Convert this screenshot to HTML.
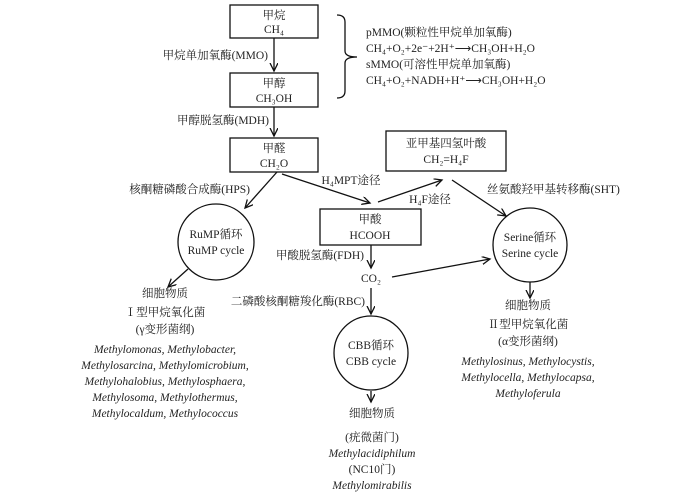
<!DOCTYPE html>
<html><head><meta charset="utf-8"><style>
html,body{margin:0;padding:0;background:#fff;}
svg{display:block;}
text{font-family:"Liberation Serif","Noto Serif CJK SC",serif;font-size:11.5px;fill:#222;}
.i{font-style:italic;}
</style></head><body>
<svg width="700" height="494" viewBox="0 0 700 494" xmlns="http://www.w3.org/2000/svg">
<defs><marker id="a" markerWidth="10" markerHeight="10" refX="8" refY="4" orient="auto" markerUnits="userSpaceOnUse"><path d="M0,0 L8,4 L0,8" fill="none" stroke="#111" stroke-width="1.3"/></marker></defs>
<g fill="none" stroke="#111" stroke-width="1.3">
<rect x="230" y="5" width="88" height="33"/>
<rect x="230" y="73" width="88" height="34"/>
<rect x="230" y="138" width="88" height="34"/>
<rect x="386" y="131" width="120" height="40"/>
<rect x="320" y="209" width="101" height="36"/>
<circle cx="216" cy="242" r="38"/>
<circle cx="530" cy="245" r="37"/>
<circle cx="371" cy="353" r="37"/>
<path d="M337,15 Q345,15 345,22 L345,51 Q345,57 357,57 Q345,57 345,63 L345,91 Q345,98 337,98"/>
<g marker-end="url(#a)">
<line x1="274" y1="38" x2="274" y2="71"/>
<line x1="274" y1="107" x2="274" y2="136"/>
<line x1="277" y1="172" x2="245" y2="208"/>
<line x1="282" y1="174" x2="370" y2="203"/>
<line x1="378" y1="202" x2="442" y2="180"/>
<line x1="452" y1="180" x2="506" y2="216"/>
<line x1="371" y1="245" x2="371" y2="268"/>
<line x1="371" y1="288" x2="371" y2="314"/>
<line x1="392" y1="277" x2="490" y2="259"/>
<line x1="188" y1="269" x2="168" y2="287"/>
<line x1="530" y1="282" x2="530" y2="298"/>
<line x1="371" y1="391" x2="371" y2="402"/>
</g>
</g>
<g text-anchor="middle">
<text x="274" y="19">甲烷</text><text x="274" y="33">CH₄</text>
<text x="274" y="87">甲醇</text><text x="274" y="102">CH₃OH</text>
<text x="274" y="152">甲醛</text><text x="274" y="167">CH₂O</text>
<text x="446" y="147">亚甲基四氢叶酸</text><text x="446" y="163">CH₂=H₄F</text>
<text x="370" y="223">甲酸</text><text x="370" y="239">HCOOH</text>
<text x="216" y="238">RuMP循环</text><text x="216" y="254">RuMP cycle</text>
<text x="530" y="241">Serine循环</text><text x="530" y="257">Serine cycle</text>
<text x="371" y="349">CBB循环</text><text x="371" y="365">CBB cycle</text>
<text x="371" y="282">CO₂</text>
<text x="165" y="297">细胞物质</text>
<text x="165" y="316">Ⅰ型甲烷氧化菌</text>
<text x="165" y="333">(γ变形菌纲)</text>
<text class="i" x="165" y="353">Methylomonas, Methylobacter,</text>
<text class="i" x="165" y="369">Methylosarcina, Methylomicrobium,</text>
<text class="i" x="165" y="385">Methylohalobius, Methylosphaera,</text>
<text class="i" x="165" y="401">Methylosoma, Methylothermus,</text>
<text class="i" x="165" y="417">Methylocaldum, Methylococcus</text>
<text x="528" y="309">细胞物质</text>
<text x="528" y="328">Ⅱ型甲烷氧化菌</text>
<text x="528" y="345">(α变形菌纲)</text>
<text class="i" x="528" y="365">Methylosinus, Methylocystis,</text>
<text class="i" x="528" y="381">Methylocella, Methylocapsa,</text>
<text class="i" x="528" y="397">Methyloferula</text>
<text x="372" y="417">细胞物质</text>
<text x="372" y="441">(疣微菌门)</text>
<text class="i" x="372" y="457">Methylacidiphilum</text>
<text x="372" y="473">(NC10门)</text>
<text class="i" x="372" y="489">Methylomirabilis</text>
<text x="351" y="184">H₄MPT途径</text>
<text x="430" y="203">H₄F途径</text>
</g>
<g text-anchor="end">
<text x="268" y="59">甲烷单加氧酶(MMO)</text>
<text x="250" y="193">核酮糖磷酸合成酶(HPS)</text>
<text x="364" y="259">甲酸脱氢酶(FDH)</text>
<text x="365" y="305">二磷酸核酮糖羧化酶(RBC)</text>
</g>
<text x="177" y="124">甲醇脱氢酶(MDH)</text>
<text x="487" y="193">丝氨酸羟甲基转移酶(SHT)</text>
<text x="366" y="36">pMMO(颗粒性甲烷单加氧酶)</text>
<text x="366" y="52">CH₄+O₂+2e⁻+2H⁺⟶CH₃OH+H₂O</text>
<text x="366" y="68">sMMO(可溶性甲烷单加氧酶)</text>
<text x="366" y="84">CH₄+O₂+NADH+H⁺⟶CH₃OH+H₂O</text>
</svg>
</body></html>
